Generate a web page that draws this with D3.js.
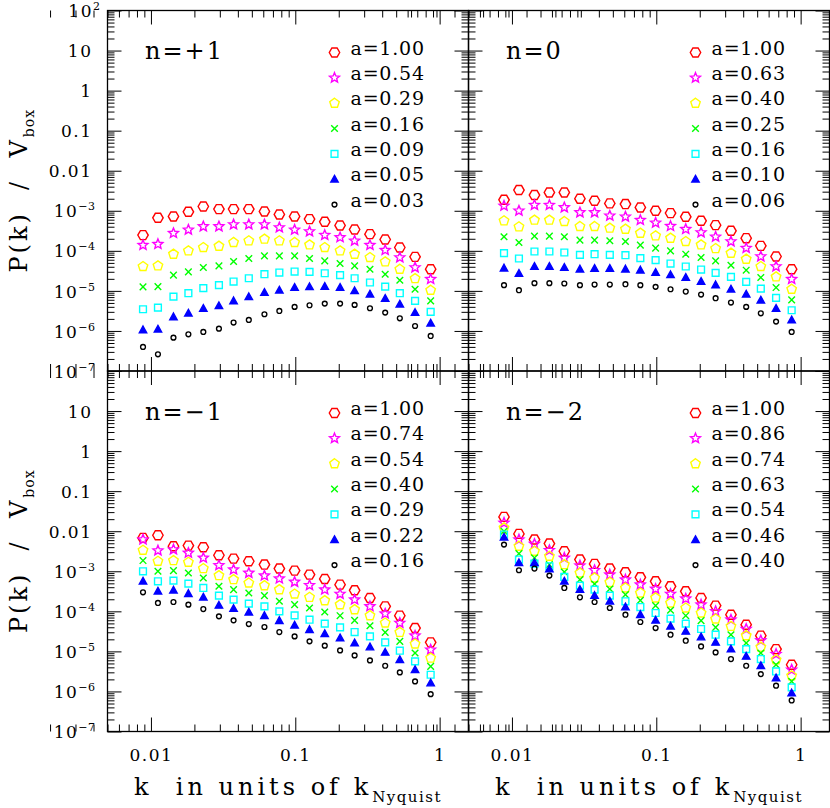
<!DOCTYPE html>
<html>
<head>
<meta charset="utf-8">
<script src="https://cdn.jsdelivr.net/npm/d3@7"></script>
<style>
  body { margin: 0; background: #fff; }
  svg { display: block; }
  text { font-family: "DejaVu Serif", serif; fill: #000; }
</style>
</head>
<body>
<svg id="chart" width="830" height="808"></svg>
<script>
// k bins (units of k_Nyquist), shared by all panels
const kBins = [0.00881, 0.01118, 0.01432, 0.01817, 0.02306, 0.02958, 0.03736, 0.04764, 0.06113, 0.07755,
               0.0989, 0.1255, 0.16, 0.2043, 0.2576, 0.3291, 0.4196, 0.5299, 0.6757, 0.8667];

const panelLabels = ["n=+1", "n=0", "n=\u22121", "n=\u22122"];

// expansion factors shown in each legend
const aNp1 = ["1.00", "0.54", "0.29", "0.16", "0.09", "0.05", "0.03"];
const aN0  = ["1.00", "0.63", "0.40", "0.25", "0.16", "0.10", "0.06"];
const aNm1 = ["1.00", "0.74", "0.54", "0.40", "0.29", "0.22", "0.16"];
const aNm2 = ["1.00", "0.86", "0.74", "0.63", "0.54", "0.46", "0.40"];

// P(k)/V_box, one row per expansion factor
const pkNp1 = [
  [2.47e-4, 6.68e-4, 7.21e-4, 9.44e-4, 1.28e-3, 1.10e-3, 1.10e-3, 1.10e-3, 9.62e-4, 8.09e-4, 7.21e-4, 6.19e-4, 5.31e-4, 4.30e-4, 3.41e-4, 2.61e-4, 1.92e-4, 1.21e-4, 7.08e-5, 3.48e-5],
  [1.39e-4, 1.47e-4, 2.76e-4, 3.35e-4, 4.06e-4, 4.06e-4, 4.55e-4, 4.55e-4, 4.55e-4, 3.83e-4, 3.35e-4, 3.04e-4, 2.47e-4, 2.16e-4, 1.78e-4, 1.39e-4, 1.04e-4, 6.81e-5, 3.83e-5, 1.96e-5],
  [4.06e-5, 4.22e-5, 8.25e-5, 1.0e-4, 1.21e-4, 1.31e-4, 1.62e-4, 1.78e-4, 1.96e-4, 1.78e-4, 1.62e-4, 1.41e-4, 1.21e-4, 1.0e-4, 8.25e-5, 6.81e-5, 5.31e-5, 3.48e-5, 2.03e-5, 1.04e-5],
  [1.26e-5, 1.28e-5, 2.47e-5, 2.99e-5, 3.83e-5, 4.22e-5, 5.41e-5, 6.43e-5, 7.50e-5, 7.50e-5, 7.50e-5, 6.43e-5, 5.62e-5, 4.82e-5, 4.22e-5, 3.48e-5, 2.61e-5, 1.85e-5, 1.10e-5, 5.62e-6],
  [3.48e-6, 3.83e-6, 7.21e-6, 8.75e-6, 1.17e-5, 1.39e-5, 1.71e-5, 2.07e-5, 2.61e-5, 2.87e-5, 3.04e-5, 2.99e-5, 2.76e-5, 2.47e-5, 2.07e-5, 1.62e-5, 1.28e-5, 8.75e-6, 5.62e-6, 2.99e-6],
  [1.06e-6, 1.10e-6, 2.24e-6, 2.76e-6, 3.62e-6, 4.22e-6, 5.62e-6, 7.08e-6, 9.08e-6, 1.04e-5, 1.21e-5, 1.26e-5, 1.28e-5, 1.21e-5, 1.0e-5, 8.25e-6, 6.43e-6, 4.64e-6, 2.87e-6, 1.56e-6],
  [3.98e-7, 2.61e-7, 6.81e-7, 8.25e-7, 9.44e-7, 1.14e-6, 1.62e-6, 1.88e-6, 2.61e-6, 3.16e-6, 3.98e-6, 4.38e-6, 4.82e-6, 4.82e-6, 4.47e-6, 3.69e-6, 2.87e-6, 2.07e-6, 1.33e-6, 7.50e-7]
];
const pkN0 = [
  [1.88e-3, 3.29e-3, 2.47e-3, 2.87e-3, 2.87e-3, 2.0e-3, 1.78e-3, 1.53e-3, 1.47e-3, 1.21e-3, 1.0e-3, 8.75e-4, 7.08e-4, 5.62e-4, 4.38e-4, 3.16e-4, 2.07e-4, 1.33e-4, 7.21e-5, 3.48e-5],
  [1.33e-3, 1.0e-3, 1.39e-3, 1.39e-3, 1.21e-3, 9.08e-4, 9.08e-4, 7.50e-4, 7.08e-4, 5.85e-4, 5.01e-4, 4.14e-4, 3.48e-4, 2.87e-4, 2.24e-4, 1.71e-4, 1.17e-4, 7.21e-5, 4.06e-5, 1.96e-5],
  [5.62e-4, 3.98e-4, 5.85e-4, 5.85e-4, 5.41e-4, 4.06e-4, 4.06e-4, 3.69e-4, 3.48e-4, 2.76e-4, 2.37e-4, 2.07e-4, 1.71e-4, 1.41e-4, 1.14e-4, 8.75e-5, 6.19e-5, 4.06e-5, 2.24e-5, 1.10e-5],
  [2.24e-4, 1.62e-4, 2.33e-4, 2.33e-4, 2.24e-4, 1.85e-4, 1.85e-4, 1.78e-4, 1.71e-4, 1.39e-4, 1.17e-4, 1.0e-4, 8.25e-5, 6.81e-5, 5.62e-5, 4.38e-5, 3.29e-5, 2.16e-5, 1.21e-5, 5.96e-6],
  [8.75e-5, 6.43e-5, 9.62e-5, 9.62e-5, 9.08e-5, 7.94e-5, 8.25e-5, 7.94e-5, 7.79e-5, 6.56e-5, 5.85e-5, 4.82e-5, 4.06e-5, 3.41e-5, 2.82e-5, 2.24e-5, 1.68e-5, 1.14e-5, 6.68e-6, 3.29e-6],
  [3.69e-5, 2.71e-5, 4.06e-5, 4.06e-5, 3.83e-5, 3.48e-5, 3.62e-5, 3.62e-5, 3.48e-5, 3.29e-5, 2.87e-5, 2.51e-5, 2.16e-5, 1.71e-5, 1.41e-5, 1.10e-5, 8.25e-6, 5.85e-6, 3.62e-6, 1.88e-6],
  [1.39e-5, 1.04e-5, 1.56e-5, 1.56e-5, 1.53e-5, 1.39e-5, 1.44e-5, 1.44e-5, 1.47e-5, 1.39e-5, 1.26e-5, 1.10e-5, 9.62e-6, 8.09e-6, 6.56e-6, 5.11e-6, 3.98e-6, 2.76e-6, 1.71e-6, 9.44e-7]
];
const pkNm1 = [
  [6.81e-3, 7.94e-3, 4.22e-3, 4.38e-3, 3.98e-3, 2.51e-3, 2.07e-3, 1.78e-3, 1.47e-3, 1.17e-3, 1.04e-3, 8.25e-4, 6.43e-4, 4.64e-4, 3.35e-4, 2.16e-4, 1.33e-4, 7.79e-5, 3.83e-5, 1.68e-5],
  [6.19e-3, 3.29e-3, 3.48e-3, 2.87e-3, 2.16e-3, 1.41e-3, 1.10e-3, 9.08e-4, 7.79e-4, 6.56e-4, 5.41e-4, 4.47e-4, 3.48e-4, 2.71e-4, 1.96e-4, 1.33e-4, 8.75e-5, 5.11e-5, 2.47e-5, 1.10e-5],
  [3.35e-3, 1.78e-3, 1.85e-3, 1.68e-3, 1.17e-3, 7.79e-4, 6.19e-4, 5.11e-4, 4.38e-4, 3.48e-4, 2.71e-4, 2.24e-4, 1.85e-4, 1.47e-4, 1.10e-4, 7.79e-5, 5.11e-5, 2.99e-5, 1.53e-5, 6.81e-6],
  [1.85e-3, 1.0e-3, 1.04e-3, 9.08e-4, 6.81e-4, 4.22e-4, 3.48e-4, 2.87e-4, 2.47e-4, 1.78e-4, 1.47e-4, 1.21e-4, 9.62e-5, 7.79e-5, 5.96e-5, 4.38e-5, 2.99e-5, 1.78e-5, 9.08e-6, 4.22e-6],
  [1.0e-3, 5.62e-4, 5.85e-4, 4.92e-4, 3.83e-4, 2.47e-4, 1.96e-4, 1.56e-4, 1.33e-4, 1.0e-4, 7.94e-5, 6.19e-5, 4.92e-5, 3.98e-5, 3.04e-5, 2.37e-5, 1.68e-5, 1.04e-5, 5.62e-6, 2.61e-6],
  [5.62e-4, 3.16e-4, 3.35e-4, 2.76e-4, 2.24e-4, 1.41e-4, 1.17e-4, 9.44e-5, 7.79e-5, 5.85e-5, 4.47e-5, 3.48e-5, 2.76e-5, 2.16e-5, 1.62e-5, 1.28e-5, 9.44e-6, 6.19e-6, 3.48e-6, 1.62e-6],
  [2.99e-4, 1.62e-4, 1.71e-4, 1.47e-4, 1.14e-4, 7.50e-5, 5.96e-5, 4.82e-5, 4.06e-5, 3.04e-5, 2.37e-5, 1.78e-5, 1.39e-5, 1.06e-5, 7.94e-6, 5.96e-6, 4.38e-6, 2.99e-6, 1.78e-6, 8.57e-7]
];
const pkNm2 = [
  [2.28e-2, 8.57e-3, 6.19e-3, 4.92e-3, 3.16e-3, 1.96e-3, 1.53e-3, 1.17e-3, 9.44e-4, 7.08e-4, 5.62e-4, 4.22e-4, 3.16e-4, 2.16e-4, 1.39e-4, 8.25e-5, 4.64e-5, 2.47e-5, 1.14e-5, 4.64e-6],
  [1.62e-2, 6.19e-3, 4.82e-3, 3.35e-3, 2.16e-3, 1.39e-3, 1.06e-3, 8.25e-4, 6.19e-4, 4.64e-4, 3.62e-4, 2.71e-4, 2.07e-4, 1.47e-4, 1.0e-4, 6.19e-5, 3.62e-5, 1.88e-5, 8.57e-6, 3.48e-6],
  [1.21e-2, 4.22e-3, 3.16e-3, 2.37e-3, 1.47e-3, 9.08e-4, 6.81e-4, 5.31e-4, 3.83e-4, 2.87e-4, 2.16e-4, 1.62e-4, 1.21e-4, 9.08e-5, 6.43e-5, 4.22e-5, 2.47e-5, 1.28e-5, 6.19e-6, 2.47e-6],
  [1.0e-2, 2.76e-3, 2.16e-3, 1.47e-3, 9.62e-4, 6.19e-4, 4.82e-4, 3.62e-4, 2.61e-4, 1.88e-4, 1.39e-4, 1.06e-4, 7.79e-5, 5.85e-5, 3.98e-5, 2.61e-5, 1.62e-5, 9.08e-6, 4.64e-6, 1.78e-6],
  [8.25e-3, 1.96e-3, 1.56e-3, 1.33e-3, 7.21e-4, 4.38e-4, 3.48e-4, 2.47e-4, 1.78e-4, 1.28e-4, 9.08e-5, 6.56e-5, 4.92e-5, 3.62e-5, 2.61e-5, 1.78e-5, 1.14e-5, 6.43e-6, 3.16e-6, 1.26e-6],
  [7.08e-3, 1.62e-3, 1.62e-3, 1.14e-3, 5.62e-4, 3.48e-4, 2.47e-4, 1.78e-4, 1.28e-4, 8.25e-5, 5.96e-5, 4.22e-5, 3.16e-5, 2.28e-5, 1.68e-5, 1.14e-5, 7.50e-6, 4.38e-6, 2.16e-6, 9.08e-7],
  [4.64e-3, 1.06e-3, 1.17e-3, 7.79e-4, 3.83e-4, 2.24e-4, 1.71e-4, 1.21e-4, 8.25e-5, 5.41e-5, 3.83e-5, 2.61e-5, 1.85e-5, 1.33e-5, 9.44e-6, 6.43e-6, 4.38e-6, 2.71e-6, 1.39e-6, 5.96e-7]
];

// axis ticks and labels
const xTickValues = [0.01, 0.1, 1];
const xTickLabels = ["0.01", "0.1", "1"];
const yTickValues = [1e2, 1e1, 1, 1e-1, 1e-2, 1e-3, 1e-4, 1e-5, 1e-6, 1e-7];
const yTickBase = ["10", "10", "1", "0.1", "0.01", "10", "10", "10", "10", "10"];
const yTickExp  = ["2", "", "", "", "", "\u22123", "\u22124", "\u22125", "\u22126", "\u22127"];

// series style (same order in every panel)
const seriesColors = ["#ff0000", "#ff00ff", "#ffff00", "#00ff00", "#00ffff", "#0000ff", "#000000"];

// ---- custom marker shapes, "size" = radius ----
const polygon = (n, rot) => ({
  draw(ctx, r) {
    for (let i = 0; i < n; i++) {
      const a = rot + i * 2 * Math.PI / n;
      i ? ctx.lineTo(r * Math.cos(a), r * Math.sin(a)) : ctx.moveTo(r * Math.cos(a), r * Math.sin(a));
    }
    ctx.closePath();
  }
});
const starShape = {
  draw(ctx, r) {
    for (let i = 0; i < 10; i++) {
      const a = -Math.PI / 2 + i * Math.PI / 5;
      const rr = i % 2 ? r * 0.45 : r;
      i ? ctx.lineTo(rr * Math.cos(a), rr * Math.sin(a)) : ctx.moveTo(rr * Math.cos(a), rr * Math.sin(a));
    }
    ctx.closePath();
  }
};
const crossShape = { draw(ctx, r) { ctx.moveTo(-r, -r); ctx.lineTo(r, r); ctx.moveTo(-r, r); ctx.lineTo(r, -r); } };
const squareShape = { draw(ctx, r) { ctx.rect(-r, -r, 2 * r, 2 * r); } };
const triShape = { draw(ctx, r) { ctx.moveTo(0, -r * 1.05); ctx.lineTo(r, r * 0.75); ctx.lineTo(-r, r * 0.75); ctx.closePath(); } };
const circleShape = { draw(ctx, r) { ctx.moveTo(r, 0); ctx.arc(0, 0, r, 0, 2 * Math.PI); } };

const markerTypes = [polygon(6, 0), starShape, polygon(5, -Math.PI / 2), crossShape, squareShape, triShape, circleShape];
const markerRadius = [5.2, 5.2, 5, 3.3, 3.4, 3.7, 2.4];
const markerFilled = [false, false, false, false, false, true, false];

const svg = d3.select("#chart");

const panelW = 361, panelH = 360.5;
const colX = [107.5, 468.5];
const rowY = [10.5, 371];

const panels = [
  { label: panelLabels[0], a: aNp1, pk: pkNp1, col: 0, row: 0 },
  { label: panelLabels[1], a: aN0,  pk: pkN0,  col: 1, row: 0 },
  { label: panelLabels[2], a: aNm1, pk: pkNm1, col: 0, row: 1 },
  { label: panelLabels[3], a: aNm2, pk: pkNm2, col: 1, row: 1 }
];

// minor ticks (2..9 x decade)
const xMinor = [], yMinor = [];
for (let d = -3; d <= 0; d++) for (let m = 2; m <= 9; m++) xMinor.push(m * Math.pow(10, d));
for (let d = -7; d <= 1; d++) for (let m = 2; m <= 9; m++) yMinor.push(m * Math.pow(10, d));

function drawMarker(g, si, px, py) {
  g.append("path")
    .attr("transform", `translate(${px},${py})`)
    .attr("d", d3.symbol().type(markerTypes[si]).size(markerRadius[si]))
    .attr("fill", markerFilled[si] ? seriesColors[si] : "none")
    .attr("stroke", seriesColors[si])
    .attr("stroke-width", 1.4);
}

panels.forEach(p => {
  const x0 = colX[p.col], y0 = rowY[p.row];
  const x = d3.scaleLog().domain([0.005, Math.pow(10, 0.2)]).range([x0, x0 + panelW]);
  const y = d3.scaleLog().domain([1e-7, 1e2]).range([y0 + panelH, y0]);
  const g = svg.append("g");

  // inward ticks on all four sides
  const ticks = (axis, t) => {
    g.append("g").attr("transform", t)
      .call(axis.tickFormat(""))
      .call(s => s.select(".domain").remove())
      .selectAll("line").attr("stroke", "#000").attr("stroke-width", 1);
  };
  ticks(d3.axisBottom(x).tickValues(xTickValues).tickSize(-14), `translate(0,${y0 + panelH})`);
  ticks(d3.axisBottom(x).tickValues(xMinor).tickSize(-7), `translate(0,${y0 + panelH})`);
  ticks(d3.axisTop(x).tickValues(xTickValues).tickSize(-14), `translate(0,${y0})`);
  ticks(d3.axisTop(x).tickValues(xMinor).tickSize(-7), `translate(0,${y0})`);
  ticks(d3.axisLeft(y).tickValues(yTickValues).tickSize(-14), `translate(${x0},0)`);
  ticks(d3.axisLeft(y).tickValues(yMinor).tickSize(-7), `translate(${x0},0)`);
  ticks(d3.axisRight(y).tickValues(yTickValues).tickSize(-14), `translate(${x0 + panelW},0)`);
  ticks(d3.axisRight(y).tickValues(yMinor).tickSize(-7), `translate(${x0 + panelW},0)`);

  g.append("rect")
    .attr("x", x0).attr("y", y0).attr("width", panelW).attr("height", panelH)
    .attr("fill", "none").attr("stroke", "#000").attr("stroke-width", 1.3);

  // y tick labels (left column only)
  if (p.col === 0) {
    const vals = p.row === 0 ? yTickValues : yTickValues.slice(1);
    g.append("g").attr("transform", `translate(${x0},0)`)
      .call(d3.axisLeft(y).tickValues(vals).tickSize(0).tickFormat(d => yTickBase[yTickValues.indexOf(d)]))
      .call(s => s.select(".domain").remove())
      .attr("font-family", null).attr("font-size", null)
      .selectAll("text")
      .attr("x", -15).attr("dy", "0.36em")
      .style("font-size", "17px").style("letter-spacing", "1.5px")
      .each(function (d) {
        const e = yTickExp[yTickValues.indexOf(d)];
        if (e) {
          d3.select(this).attr("x", d > 1 ? -7 : -12)
            .append("tspan").attr("dy", -7).style("font-size", "11px").style("letter-spacing", "0.5px").text(e);
        }
      });
  }

  // x tick labels and title (bottom row only)
  if (p.row === 1) {
    g.append("g").attr("transform", `translate(0,${y0 + panelH})`)
      .call(d3.axisBottom(x).tickValues(xTickValues).tickSize(0).tickFormat(d => xTickLabels[xTickValues.indexOf(d)]))
      .call(s => s.select(".domain").remove())
      .attr("font-family", null).attr("font-size", null)
      .selectAll("text")
      .attr("y", 29).attr("dy", 0)
      .style("font-size", "17px").style("letter-spacing", "1.5px");

    g.append("text")
      .attr("x", x0 + panelW / 2).attr("y", 795)
      .attr("text-anchor", "middle")
      .style("font-size", "24px").style("letter-spacing", "4px")
      .text("k\u00a0\u00a0in units of k")
      .append("tspan").attr("dy", 7).style("font-size", "15px").style("letter-spacing", "1.5px").text("Nyquist");
  }

  // y title (left column only)
  if (p.col === 0) {
    const t = g.append("text")
      .attr("transform", `translate(26.5,${y0 + panelH / 2}) rotate(-90)`)
      .attr("text-anchor", "middle")
      .style("font-size", "24px").style("letter-spacing", "3px")
      .text("P(k)\u00a0\u00a0/\u00a0\u00a0V");
    t.append("tspan").attr("dy", 7).style("font-size", "14px").style("letter-spacing", "1px").text("box");
  }

  // panel label
  g.append("text")
    .attr("x", x0 + 37.5).attr("y", y0 + 48.5)
    .style("font-size", "24px").style("letter-spacing", "2px")
    .text(p.label);

  // data markers
  p.pk.forEach((vals, si) => {
    vals.forEach((v, i) => drawMarker(g, si, x(kBins[i]), y(v)));
  });

  // legend
  p.a.forEach((a, si) => {
    const ly = y0 + 42 + si * 25.35;
    drawMarker(g, si, x0 + 227, ly);
    g.append("text")
      .attr("x", x0 + 243).attr("y", ly + 2)
      .style("font-size", "19px").style("letter-spacing", "0.8px")
      .text("a=" + a);
  });
});
</script>
</body>
</html>
